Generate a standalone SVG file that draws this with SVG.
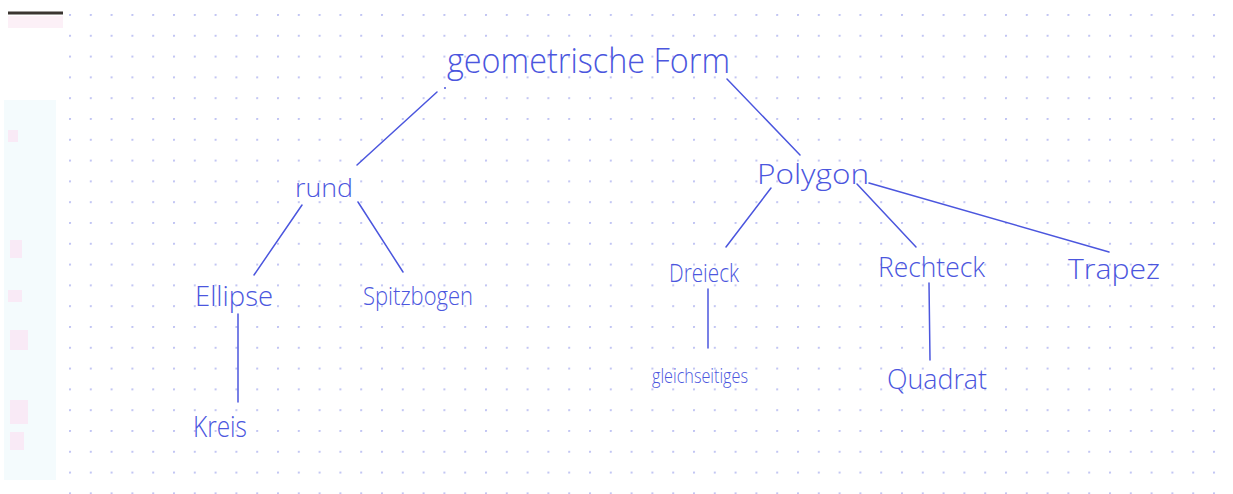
<svg xmlns="http://www.w3.org/2000/svg" width="1233" height="494" viewBox="0 0 1233 494">
<style>
.ink{font-family:"Open Sans","Liberation Sans","DejaVu Sans",sans-serif;fill:#4b56de;font-weight:300}
.ln{stroke:#4b56de;stroke-width:1.5;fill:none;stroke-linecap:round}
.blot{fill:#fbe3f2;opacity:0.7}
</style>
<defs>
<pattern id="dots" patternUnits="userSpaceOnUse" x="69" y="14" width="20.8" height="20.8">
<circle cx="1" cy="1" r="1.1" fill="#bcc0f2"/>
</pattern>
</defs>
<rect width="1233" height="494" fill="#ffffff"/>
<g id="paper-edge">
<rect x="4" y="100" width="52" height="380" fill="#f1fafc" opacity="0.8"/>
<rect class="blot" x="8" y="130" width="10" height="12"/>
<rect class="blot" x="10" y="240" width="12" height="18"/>
<rect class="blot" x="8" y="290" width="14" height="12"/>
<rect class="blot" x="10" y="330" width="18" height="20"/>
<rect class="blot" x="10" y="400" width="18" height="24"/>
<rect class="blot" x="10" y="432" width="14" height="18"/>
<rect x="8" y="16" width="55" height="12" fill="#fcf0f7"/>
<rect x="8" y="11.5" width="55" height="3" fill="#3a3530"/>
</g>
<rect x="64" y="8" width="1169" height="486" fill="url(#dots)"/>
<g id="connectors">
<line class="ln" x1="437" y1="92" x2="357" y2="165"/>
<circle cx="445" cy="88" r="1" fill="#4b56de"/>
<line class="ln" x1="727" y1="79" x2="800" y2="155"/>
<line class="ln" x1="302" y1="205" x2="254" y2="275"/>
<line class="ln" x1="358" y1="202" x2="403" y2="272"/>
<line class="ln" x1="238" y1="314" x2="238" y2="402"/>
<line class="ln" x1="771" y1="188" x2="726" y2="247"/>
<line class="ln" x1="857" y1="184" x2="916" y2="247"/>
<line class="ln" x1="869" y1="183" x2="1109" y2="252"/>
<line class="ln" x1="708" y1="289" x2="708" y2="348"/>
<line class="ln" x1="929" y1="283" x2="930" y2="360"/>
</g>
<g id="n-geometrische-form"><text class="ink" x="447" y="73" font-size="34" textLength="283" lengthAdjust="spacingAndGlyphs">geometrische Form</text></g>
<g id="n-rund"><text class="ink" x="295" y="197" font-size="26" textLength="58" lengthAdjust="spacingAndGlyphs">rund</text></g>
<g id="n-polygon"><text class="ink" x="757" y="184" font-size="28" textLength="112" lengthAdjust="spacingAndGlyphs">Polygon</text></g>
<g id="n-ellipse"><text class="ink" x="195" y="306" font-size="27" textLength="78" lengthAdjust="spacingAndGlyphs">Ellipse</text></g>
<g id="n-spitzbogen"><text class="ink" x="363" y="305" font-size="25" textLength="110" lengthAdjust="spacingAndGlyphs">Spitzbogen</text></g>
<g id="n-kreis"><text class="ink" x="193" y="437" font-size="30" textLength="54" lengthAdjust="spacingAndGlyphs">Kreis</text></g>
<g id="n-dreieck"><text class="ink" x="669" y="282" font-size="25" textLength="70" lengthAdjust="spacingAndGlyphs">Dreieck</text></g>
<g id="n-rechteck"><text class="ink" x="878" y="277" font-size="28" textLength="107" lengthAdjust="spacingAndGlyphs">Rechteck</text></g>
<g id="n-trapez"><text class="ink" x="1068" y="279" font-size="28" textLength="92" lengthAdjust="spacingAndGlyphs">Trapez</text></g>
<g id="n-gleichseitiges"><text class="ink" x="652" y="383" font-size="21" textLength="96" lengthAdjust="spacingAndGlyphs">gleichseitiges</text></g>
<g id="n-quadrat"><text class="ink" x="887" y="389" font-size="28" textLength="100" lengthAdjust="spacingAndGlyphs">Quadrat</text></g>
</svg>
